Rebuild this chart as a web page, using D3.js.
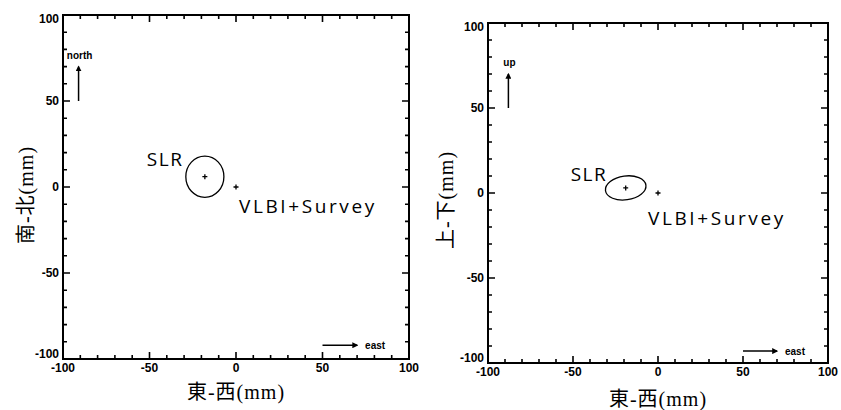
<!DOCTYPE html>
<html>
<head>
<meta charset="utf-8">
<script src="https://cdn.jsdelivr.net/npm/d3@7"></script>
<style>
  body { margin: 0; background: #fff; }
  svg { display: block; }
  .tick-label { font-family: "Liberation Sans", Arial, sans-serif; font-weight: bold; font-size: 12px; fill: #000; }
  .axis-title { font-family: "Liberation Serif", "Noto Sans CJK JP", serif; font-size: 20px; letter-spacing: 1px; fill: #000; }
  .point-label { font-family: "Open Sans", Lato, sans-serif; font-size: 19px; letter-spacing: 1.5px; fill: #000; }
  .point-label.wide { letter-spacing: 2.6px; }
  .dir-label { font-family: "Liberation Sans", Arial, sans-serif; font-weight: bold; font-size: 10px; fill: #000; }
</style>
</head>
<body>
<div id="screen"></div>
<script>
// --- data (mm) ---
var yTitles      = ['南-北(mm)', '上-下(mm)'],
    xTitle       = '東-西(mm)',
    dirLabels    = ['north', 'up'],
    tickValues   = [-100, -50, 0, 50, 100],
    slrX         = [-18, -19],
    slrY         = [6, 3],
    slrErrX      = [11, 12],
    slrErrY      = [12, 7],
    slrTilt      = [0, -8],
    vlbiX        = [0, 0],
    vlbiY        = [0, 0],
    upArrowX     = [-91, -88],
    upArrowY     = [50, 70],
    eastArrowX   = [50, 70],
    eastArrowY   = [-92, -93];

// pixel boxes of the two frames
var boxes = [
  { left: 63, right: 409, top: 15, bottom: 359, ytx: 33, yty: 195, xty: 399 },
  { left: 488, right: 828, top: 23, bottom: 363, ytx: 453, yty: 200, xty: 406 }
];

var svg = d3.select('#screen')
            .append('svg')
            .attr('width', 841)
            .attr('height', 410);

svg.append('defs')
   .append('marker')
   .attr('id', 'head')
   .attr('viewBox', '0 0 10 10')
   .attr('refX', 8)
   .attr('refY', 5)
   .attr('markerWidth', 4)
   .attr('markerHeight', 4)
   .attr('orient', 'auto')
   .append('path')
   .attr('d', 'M0,0L10,5L0,10Z')
   .attr('fill', '#000');

var drawPanel = function(i) {
  var b = boxes[i],
      x = d3.scaleLinear().domain([-100, 100]).range([b.left, b.right]),
      y = d3.scaleLinear().domain([-100, 100]).range([b.bottom, b.top]),
      g = svg.append('g');

  g.append('rect')
    .attr('x', b.left).attr('y', b.top)
    .attr('width', b.right - b.left).attr('height', b.bottom - b.top)
    .attr('fill', 'none').attr('stroke', '#000').attr('stroke-width', 2);

  // inward ticks on all four sides: minor every 10, major every 50
  var tickPath = d3.path();
  x.ticks(20).forEach(function(v) {
    var len = tickValues.indexOf(v) >= 0 ? 7 : 4;
    tickPath.moveTo(x(v), b.bottom); tickPath.lineTo(x(v), b.bottom - len);
    tickPath.moveTo(x(v), b.top);    tickPath.lineTo(x(v), b.top + len);
    tickPath.moveTo(b.left, y(v));   tickPath.lineTo(b.left + len, y(v));
    tickPath.moveTo(b.right, y(v));  tickPath.lineTo(b.right - len, y(v));
  });
  g.append('path')
    .attr('d', tickPath.toString())
    .attr('fill', 'none')
    .attr('stroke', '#000')
    .attr('stroke-width', 1.6);

  // tick labels
  g.selectAll('.xl').data(tickValues).enter().append('text')
    .attr('class', 'tick-label')
    .attr('x', function(d) { return x(d); })
    .attr('y', b.bottom + 13)
    .attr('text-anchor', 'middle')
    .text(function(d) { return d; });
  g.selectAll('.yl').data(tickValues).enter().append('text')
    .attr('class', 'tick-label')
    .attr('x', b.left - 4)
    .attr('y', function(d) { return Math.max(b.top + 8, Math.min(b.bottom - 1, y(d) + 4)); })
    .attr('text-anchor', 'end')
    .text(function(d) { return d; });

  // axis titles
  g.append('text').attr('class', 'axis-title')
    .attr('x', x(0)).attr('y', b.xty)
    .attr('text-anchor', 'middle')
    .text(xTitle);
  g.append('text').attr('class', 'axis-title')
    .attr('transform', 'translate(' + b.ytx + ',' + b.yty + ') rotate(-90)')
    .attr('text-anchor', 'middle')
    .text(yTitles[i]);

  // SLR error ellipse and point
  var cx = x(slrX[i]), cy = y(slrY[i]);
  g.append('ellipse')
    .attr('cx', cx).attr('cy', cy)
    .attr('rx', x(slrErrX[i]) - x(0))
    .attr('ry', y(0) - y(slrErrY[i]))
    .attr('transform', 'rotate(' + slrTilt[i] + ',' + cx + ',' + cy + ')')
    .attr('fill', 'none').attr('stroke', '#000').attr('stroke-width', 1.3);

  var plus = function(px, py) {
    g.append('path')
      .attr('d', 'M' + (px - 2.5) + ',' + py + 'h5M' + px + ',' + (py - 2.5) + 'v5')
      .attr('stroke', '#000').attr('stroke-width', 1.3);
  };
  plus(cx, cy);
  plus(x(vlbiX[i]), y(vlbiY[i]));

  g.append('text').attr('class', 'point-label')
    .attr('x', cx - (i ? 55 : 58)).attr('y', cy - (i ? 7 : 11))
    .text('SLR');
  g.append('text').attr('class', 'point-label wide')
    .attr('x', x(vlbiX[i]) + (i ? -10 : 3)).attr('y', y(vlbiY[i]) + (i ? 32 : 26))
    .text('VLBI+Survey');

  // direction arrows
  g.append('line')
    .attr('x1', x(upArrowX[i])).attr('x2', x(upArrowX[i]))
    .attr('y1', y(upArrowY[0])).attr('y2', y(upArrowY[1]))
    .attr('stroke', '#000').attr('stroke-width', 1.5)
    .attr('marker-end', 'url(#head)');
  g.append('text').attr('class', 'dir-label')
    .attr('x', x(upArrowX[i]) + 1).attr('y', y(upArrowY[1]) - 8)
    .attr('text-anchor', 'middle')
    .text(dirLabels[i]);

  g.append('line')
    .attr('x1', x(eastArrowX[0])).attr('x2', x(eastArrowX[1]))
    .attr('y1', y(eastArrowY[i])).attr('y2', y(eastArrowY[i]))
    .attr('stroke', '#000').attr('stroke-width', 1.5)
    .attr('marker-end', 'url(#head)');
  g.append('text').attr('class', 'dir-label')
    .attr('x', x(eastArrowX[1]) + 8).attr('y', y(eastArrowY[i]) + 4)
    .text('east');
};

drawPanel(0);
drawPanel(1);
</script>
</body>
</html>
